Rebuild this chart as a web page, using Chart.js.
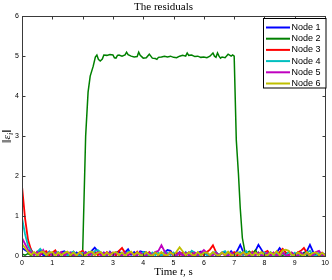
<!DOCTYPE html>
<html>
<head>
<meta charset="utf-8">
<script src="https://cdn.jsdelivr.net/npm/chart.js@4/dist/chart.umd.min.js"></script>
<style>
  html, body { margin: 0; padding: 0; background: #fff; }
  canvas { display: block; }
</style>
</head>
<body>
<canvas id="residuals" width="332" height="280"></canvas>
<script>
// sample times for nodes 1,3..6 (0 .. 10 s, step 0.1)
const times = Array.from({length: 101}, (_, i) => +(i * 0.1).toFixed(1));

const nodeLabels = ['Node 1', 'Node 2', 'Node 3', 'Node 4', 'Node 5', 'Node 6'];
const nodeColors = ['#0000ff', '#008000', '#ff0000', '#00bfbf', '#bf00bf', '#bfbf00'];

const node1 = [
  0.20,0.15,0.10,0.16,0.02,0.10,0.13,0.02,0.01,0.11,
  0.02,0.09,0.01,0.10,0.12,0.02,0.08,0.01,0.09,0.03,
  0.02,0.10,0.03,0.13,0.21,0.12,0.02,0.09,0.01,0.11,
  0.02,0.08,0.12,0.01,0.09,0.17,0.03,0.10,0.02,0.12,
  0.10,0.09,0.02,0.01,0.10,0.03,0.01,0.09,0.15,0.13,
  0.02,0.01,0.10,0.03,0.01,0.09,0.02,0.01,0.08,0.11,
  0.02,0.09,0.01,0.08,0.02,0.01,0.08,0.10,0.02,0.12,
  0.03,0.13,0.28,0.10,0.02,0.09,0.01,0.13,0.28,0.16,
  0.03,0.01,0.09,0.02,0.08,0.20,0.10,0.02,0.01,0.08,
  0.02,0.09,0.01,0.08,0.12,0.28,0.11,0.02,0.01,0.08,
  0.03
];

// node 2 has its own (uneven) time stamps around the jumps
const node2Times = [
  0,0.1,0.2,0.3,0.4,0.5,0.6,0.7,0.8,0.9,1.0,1.1,1.2,1.3,1.4,1.5,1.6,1.7,1.8,1.9,2.0,
  2.1,2.18,2.25,2.35,2.42,2.47,2.52,2.58,2.65,2.7,2.8,2.9,3.0,3.05,3.1,3.15,3.2,3.3,3.4,
  3.45,3.5,3.6,3.7,3.8,3.85,3.9,4.0,4.1,4.2,4.3,4.4,4.45,4.5,4.6,4.7,4.8,4.9,5.0,5.1,
  5.2,5.3,5.4,5.45,5.5,5.6,5.7,5.8,5.9,6.0,6.1,6.2,6.3,6.35,6.4,6.45,6.5,6.55,6.6,6.7,
  6.8,6.9,6.95,7.0,7.07,7.14,7.2,7.27,7.35,7.4,7.5,7.6,7.7,7.8,7.9,8.0,8.1,8.2,8.3,8.4,
  8.5,8.6,8.7,8.8,8.9,9.0,9.1,9.2,9.3,9.4,9.5,9.6,9.7,9.8,9.9,10.0
];
const node2 = [
  0.05,0.02,0.06,0.01,0.07,0.02,0.05,0.08,0.01,0.06,0.02,0.07,0.01,0.06,0.02,0.08,0.01,0.05,0.02,0.07,0.05,
  3.00,4.10,4.50,4.75,4.98,5.03,4.92,4.88,4.93,5.03,5.02,5.04,5.03,4.96,4.95,5.02,5.03,5.00,5.03,
  5.10,5.04,5.00,4.98,4.99,5.10,5.02,4.95,4.96,5.05,4.95,4.94,4.92,4.97,4.98,5.00,4.98,5.00,4.97,4.96,
  5.00,5.02,5.00,5.08,5.02,5.03,4.99,5.00,4.97,4.98,4.96,5.00,5.08,5.00,4.97,5.08,5.00,4.95,4.98,4.96,
  5.05,5.00,5.03,5.00,2.90,2.07,1.20,0.45,0.12,0.06,0.12,0.05,0.15,0.03,0.10,0.02,0.08,0.01,0.07,0.02,
  0.06,0.01,0.08,0.02,0.07,0.01,0.06,0.02,0.08,0.01,0.06,0.02,0.07,0.01,0.05,0.02
];

const node3 = [
  1.75,0.95,0.40,0.15,0.02,0.11,0.02,0.09,0.12,0.01,
  0.08,0.14,0.02,0.10,0.01,0.09,0.02,0.11,0.01,0.08,
  0.13,0.02,0.09,0.01,0.11,0.02,0.08,0.01,0.10,0.02,
  0.09,0.01,0.13,0.20,0.08,0.01,0.09,0.02,0.11,0.01,
  0.08,0.02,0.10,0.01,0.08,0.02,0.09,0.01,0.03,0.10,
  0.01,0.08,0.02,0.09,0.01,0.08,0.11,0.02,0.01,0.08,
  0.02,0.10,0.16,0.27,0.10,0.02,0.09,0.01,0.08,0.02,
  0.10,0.01,0.08,0.02,0.09,0.01,0.11,0.02,0.08,0.01,
  0.09,0.13,0.02,0.08,0.01,0.10,0.18,0.09,0.02,0.08,
  0.01,0.09,0.13,0.20,0.08,0.02,0.01,0.09,0.02,0.08,
  0.01
];

const node4 = [
  0.95,0.55,0.25,0.12,0.02,0.10,0.18,0.09,0.02,0.11,
  0.01,0.08,0.10,0.02,0.09,0.01,0.08,0.11,0.02,0.01,
  0.08,0.02,0.10,0.03,0.12,0.15,0.09,0.02,0.01,0.09,
  0.02,0.10,0.01,0.08,0.02,0.11,0.09,0.01,0.08,0.02,
  0.10,0.02,0.01,0.09,0.02,0.08,0.01,0.10,0.08,0.02,
  0.09,0.01,0.08,0.02,0.10,0.02,0.13,0.08,0.01,0.02,
  0.09,0.02,0.01,0.08,0.10,0.02,0.09,0.12,0.02,0.08,
  0.01,0.08,0.10,0.02,0.12,0.01,0.08,0.02,0.09,0.01,
  0.08,0.02,0.10,0.01,0.08,0.02,0.09,0.01,0.11,0.02,
  0.08,0.01,0.09,0.02,0.08,0.13,0.02,0.01,0.08,0.02,
  0.01
];

const node5 = [
  0.45,0.30,0.15,0.09,0.02,0.10,0.03,0.15,0.02,0.09,
  0.01,0.08,0.02,0.10,0.01,0.08,0.09,0.02,0.01,0.08,
  0.02,0.09,0.01,0.08,0.02,0.10,0.01,0.08,0.02,0.09,
  0.01,0.08,0.02,0.01,0.09,0.02,0.08,0.01,0.02,0.09,
  0.02,0.01,0.08,0.02,0.10,0.13,0.27,0.12,0.02,0.08,
  0.01,0.02,0.09,0.01,0.08,0.02,0.01,0.09,0.02,0.08,
  0.15,0.08,0.01,0.02,0.09,0.01,0.08,0.02,0.01,0.08,
  0.02,0.09,0.01,0.08,0.02,0.01,0.08,0.02,0.09,0.01,
  0.02,0.08,0.01,0.09,0.02,0.01,0.08,0.02,0.01,0.08,
  0.02,0.01,0.09,0.02,0.08,0.01,0.02,0.10,0.13,0.02,
  0.01
];

const node6 = [
  0.30,0.20,0.10,0.03,0.10,0.02,0.09,0.11,0.02,0.08,
  0.10,0.01,0.09,0.02,0.08,0.11,0.02,0.09,0.01,0.10,
  0.03,0.02,0.09,0.11,0.02,0.08,0.10,0.01,0.09,0.02,
  0.08,0.10,0.02,0.09,0.01,0.08,0.11,0.02,0.09,0.03,
  0.02,0.10,0.03,0.01,0.09,0.02,0.10,0.03,0.02,0.09,
  0.03,0.11,0.22,0.12,0.02,0.09,0.03,0.01,0.10,0.02,
  0.08,0.09,0.02,0.10,0.03,0.01,0.09,0.02,0.11,0.03,
  0.02,0.09,0.03,0.10,0.02,0.08,0.01,0.09,0.02,0.10,
  0.03,0.02,0.09,0.03,0.12,0.02,0.14,0.16,0.13,0.03,
  0.02,0.09,0.03,0.01,0.10,0.02,0.08,0.09,0.02,0.08,
  0.02
];

const xTicks = [0, 1, 2, 3, 4, 5, 6, 7, 8, 9, 10];
const yTicks = [0, 1, 2, 3, 4, 5, 6];

function pts(xs, ys) {
  return ys.map((y, i) => ({x: xs[i], y: y}));
}

const series = [
  pts(times, node1),
  pts(node2Times, node2),
  pts(times, node3),
  pts(times, node4),
  pts(times, node5),
  pts(times, node6),
];

const datasets = series.map((d, i) => ({
  label: nodeLabels[i],
  data: d,
  borderColor: nodeColors[i],
  backgroundColor: nodeColors[i],
  borderWidth: i === 1 ? 1.5 : 1.8,
  pointRadius: 0,
  tension: 0,
  order: 6 - i, // later nodes painted on top, like matlab
}));

// matlab-ish frame: box, inward ticks, labels, legend
const matlabFrame = {
  id: 'matlabFrame',
  afterDraw(chart) {
    const ctx = chart.ctx;
    const a = chart.chartArea;
    const sx = chart.scales.x, sy = chart.scales.y;
    const L = Math.round(a.left) + 0.5, R = Math.round(a.right) + 0.5;
    const T = Math.round(a.top) + 0.5, B = Math.round(a.bottom) + 0.5;
    ctx.save();
    ctx.strokeStyle = '#3a3a3a';
    ctx.lineWidth = 1;
    ctx.strokeRect(L, T, R - L, B - T);
    ctx.beginPath();
    xTicks.forEach(v => {
      const px = Math.round(sx.getPixelForValue(v)) + 0.5;
      ctx.moveTo(px, B); ctx.lineTo(px, B - 3);
      ctx.moveTo(px, T); ctx.lineTo(px, T + 3);
    });
    yTicks.forEach(v => {
      const py = Math.round(sy.getPixelForValue(v)) + 0.5;
      ctx.moveTo(L, py); ctx.lineTo(L + 3, py);
      ctx.moveTo(R, py); ctx.lineTo(R - 3, py);
    });
    ctx.stroke();

    // x label "Time t, s" with italic t
    ctx.fillStyle = '#000';
    ctx.textBaseline = 'middle';
    ctx.textAlign = 'left';
    const parts = [['Time ', 'normal'], ['t', 'italic'], [', s', 'normal']];
    let w = 0;
    parts.forEach(p => { ctx.font = p[1] + ' 11px "Liberation Serif"'; w += ctx.measureText(p[0]).width; });
    let cx = (a.left + a.right) / 2 - w / 2;
    parts.forEach(p => {
      ctx.font = p[1] + ' 11px "Liberation Serif"';
      ctx.fillText(p[0], cx, 272);
      cx += ctx.measureText(p[0]).width;
    });

    // y label ||eps_i||
    ctx.save();
    ctx.translate(8, (a.top + a.bottom) / 2);
    ctx.rotate(-Math.PI / 2);
    ctx.font = '13px "Liberation Serif"';
    const w1 = ctx.measureText('\u2016').width;
    ctx.font = 'italic 11px "Liberation Serif"';
    const w2 = ctx.measureText('\u03b5').width;
    ctx.font = 'italic 8px "Liberation Serif"';
    const w3 = ctx.measureText('i').width;
    let yx = -(w1 * 2 + w2 + w3) / 2;
    ctx.font = '13px "Liberation Serif"';
    ctx.fillText('\u2016', yx, 0); yx += w1;
    ctx.font = 'italic 11px "Liberation Serif"';
    ctx.fillText('\u03b5', yx, -1); yx += w2;
    ctx.font = 'italic 8px "Liberation Serif"';
    ctx.fillText('i', yx, 3); yx += w3;
    ctx.font = '13px "Liberation Serif"';
    ctx.fillText('\u2016', yx, 0);
    ctx.restore();

    // legend box
    const lx = 263.5, ly = 18.5, lw = 62.5, lh = 69.5;
    ctx.fillStyle = '#fff';
    ctx.fillRect(lx, ly, lw, lh);
    ctx.strokeStyle = '#000';
    ctx.strokeRect(lx, ly, lw, lh);
    ctx.font = '9px "Liberation Sans"';
    ctx.textBaseline = 'middle';
    nodeLabels.forEach((name, i) => {
      const yy = 27.5 + i * 11.2;
      ctx.strokeStyle = nodeColors[i];
      ctx.lineWidth = 2;
      ctx.beginPath();
      ctx.moveTo(266, yy); ctx.lineTo(290, yy);
      ctx.stroke();
      ctx.fillStyle = '#000';
      ctx.fillText(name, 291.5, yy);
    });
    ctx.restore();
  }
};

new Chart(document.getElementById('residuals'), {
  type: 'line',
  data: { datasets: datasets },
  options: {
    responsive: false,
    animation: false,
    events: [],
    layout: { padding: { left: 0, right: 5, top: 0, bottom: 0 } },
    plugins: {
      legend: { display: false },
      tooltip: { enabled: false },
      title: {
        display: true,
        text: 'The residuals',
        color: '#000',
        font: { family: 'Liberation Serif', size: 11, weight: 'normal' },
        padding: { top: 1, bottom: 2 },
      },
    },
    scales: {
      x: {
        type: 'linear',
        min: 0,
        max: 10,
        grid: { display: false, drawTicks: false },
        border: { display: false },
        ticks: { stepSize: 1, color: '#000', padding: 3, font: { family: 'Liberation Sans', size: 7 }, maxRotation: 0 },
        afterFit: s => { s.height = 24; },
      },
      y: {
        type: 'linear',
        min: 0,
        max: 6,
        grid: { display: false, drawTicks: false },
        border: { display: false },
        ticks: { stepSize: 1, color: '#000', padding: 3, font: { family: 'Liberation Sans', size: 7 } },
        afterFit: s => { s.width = 22; },
      },
    },
  },
  plugins: [matlabFrame],
});
</script>
</body>
</html>
